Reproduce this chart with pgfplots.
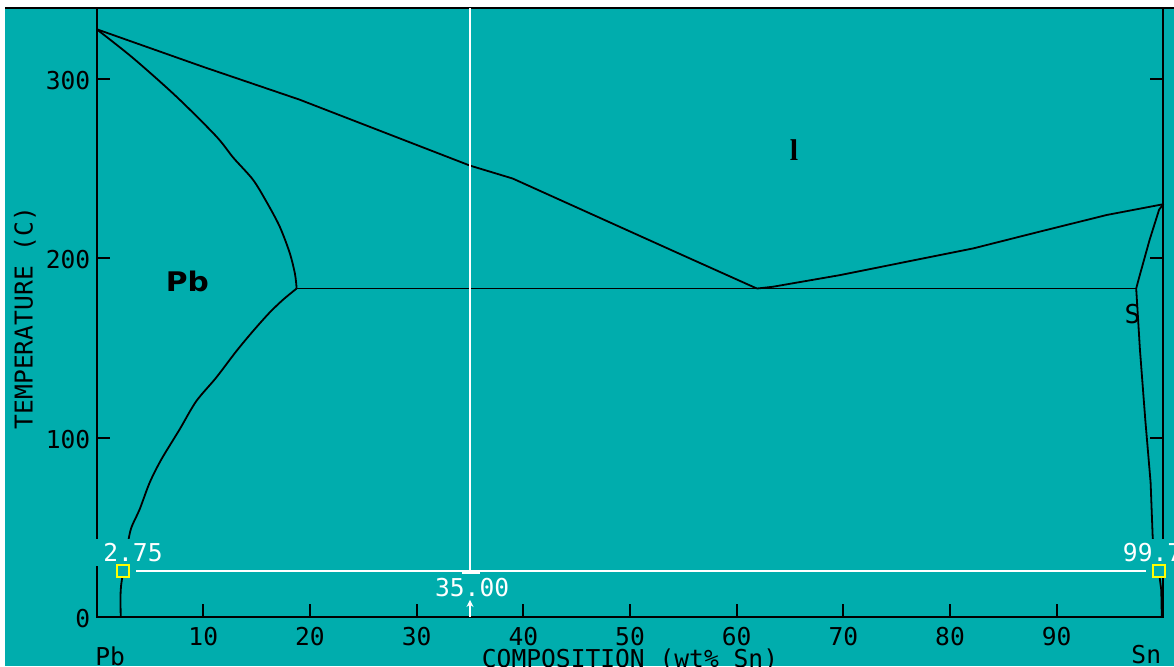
\documentclass[border=0pt]{standalone}
\usepackage{pgfplots}
\pgfplotsset{compat=1.18}
\usetikzlibrary{arrows.meta}
\usepackage{fontspec}
\setmainfont{DejaVu Sans Mono}
\newfontfamily\monof{DejaVu Sans Mono}
\newfontfamily\boldsans{DejaVu Sans}
\newfontfamily\boldserif{Liberation Serif}
\definecolor{bg}{RGB}{0,173,173}
\definecolor{yel}{RGB}{255,255,0}
\newcommand{\tf}{\monof\fontsize{12.3}{14}\selectfont}
\begin{document}
\begin{tikzpicture}[x=1pt,y=1pt]
\clip (0pt,0pt) rectangle (587pt,333pt);
\fill[white] (0pt,0pt) rectangle (587pt,333pt);
\fill[bg] (2.5pt,0pt) rectangle (587pt,329.5pt);
\draw[line width=1pt] (2.5pt,329pt) -- (587pt,329pt);
\begin{axis}[
  at={(48.3pt,24.5pt)}, anchor=south west, scale only axis,
  width=533.4pt, height=304.5pt,
  xmin=0, xmax=100, ymin=0, ymax=339.3,
  clip=false,
  axis line style={line width=1pt},
  tick align=inside,
  major tick length=6.5pt,
  every tick/.style={line width=1pt, black},
  xtick={10,20,...,90}, xtick pos=bottom,
  ytick={0,100,200,300}, ytick pos=both,
  /pgf/number format/assume math mode=true,
  ticklabel style={font=\tf, inner sep=0pt},
  xticklabel style={yshift=-5pt},
  yticklabel style={xshift=-3pt, yshift=-1pt},
  xlabel={COMPOSITION (wt\% Sn)},
  ylabel={TEMPERATURE (C)},
  every axis x label/.style={at={(axis description cs:0.5,0)}, anchor=north, yshift=-15.5pt, inner sep=0pt, font=\tf},
  every axis y label/.style={at={(axis description cs:-0.0671,0.491)}, rotate=90, anchor=center, inner sep=0pt, font=\tf},
]
% liquidus (left)
\addplot[black, line width=0.9pt] coordinates {
 (0,327.5) (10,306.5) (19,288.3) (25,274.5) (30,263) (35,251.5) (39,244.3)
 (45,228.2) (50,214.8) (55,201.4) (61.9,183)};
% liquidus (right)
\addplot[black, line width=0.9pt] coordinates {
 (61.9,183) (63.4,184) (69.7,190.5) (75.9,197.9) (82.2,205.4) (88.4,214.7) (94.7,224) (100,230)};
% eutectic line
\addplot[black, line width=0.9pt] coordinates {(18.75,183) (97.45,183)};
% left solidus (upper part)
\addplot[black, line width=0.9pt, smooth, tension=0.5] coordinates {
 (0,327.5) (3.4,311.5) (7.47,290) (11.2,267.9) (12.8,256)
 (14.65,243.7) (15.9,231.6) (17.15,217.7) (18.1,202.9) (18.6,191) (18.75,183)};
% left solvus (lower part)
\addplot[black, line width=0.9pt, smooth, tension=0.5] coordinates {
 (18.75,183) (17.5,176.9) (16.2,169.5) (14.65,159.2) (13.1,148.1) (11.2,133.3) (9.34,120.2)
 (7.78,104.5) (6.06,87.7) (4.97,74.8) (4.03,59.9) (3.25,49.7) (2.9,40)
 (2.5,25.6) (2.26,15) (2.26,0)};
% right solidus / solvus
\addplot[black, line width=0.9pt] coordinates {
 (100,230) (99.6,227) (98.7,210) (97.75,189.7) (97.45,183) (97.8,149) (98.3,110)
 (98.8,75) (99.0,44) (99.57,25.6) (99.8,15) (99.85,0)};
% region labels
\node at (axis cs:65.37,260.2) {\boldserif\bfseries\fontsize{15}{17}\selectfont l};
\node at (axis cs:8.52,187.2) {\scalebox{1.1}[1]{\boldsans\bfseries\fontsize{13.5}{15}\selectfont Pb}};
\node at (axis cs:97.1,168.8) {\tf\fontsize{13}{15}\selectfont S};
% end labels
\node[anchor=north west, inner sep=0pt] at (axis cs:-0.15,-16.3) {\tf Pb};
\node[anchor=north east, inner sep=0pt] at (axis cs:99.82,-15.6) {\tf Sn};
% cursor lines
\addplot[white, line width=1pt] coordinates {(35,339.3) (35,25.6)};
\addplot[white, line width=1pt] coordinates {(3.74,25.6) (98.41,25.6)};
\addplot[white, line width=1.2pt] coordinates {(34.25,24.6) (35.95,24.6)};
\addplot[white, line width=0.8pt, -{Stealth[length=3.5pt,width=3.5pt]}] coordinates {(35,0) (35,9.5)};
% value labels
\node[fill=bg, text=white, inner xsep=4.5pt, inner ysep=2pt] at (axis cs:3.41,35.8) {\tf 2.75};
\node[fill=bg, text=white, inner xsep=4.5pt, inner ysep=2pt, anchor=west] at (axis cs:95.33,35.8) {\tf 99.7};
\node[text=white, inner sep=0pt] at (axis cs:35.2,16.2) {\tf 35.00};
% end markers
\addplot[only marks, mark=square*, mark size=3pt, mark options={draw=yel, fill=bg, line width=1pt}]
 coordinates {(2.5,25.6) (99.57,25.6)};
\end{axis}
\end{tikzpicture}
\end{document}
